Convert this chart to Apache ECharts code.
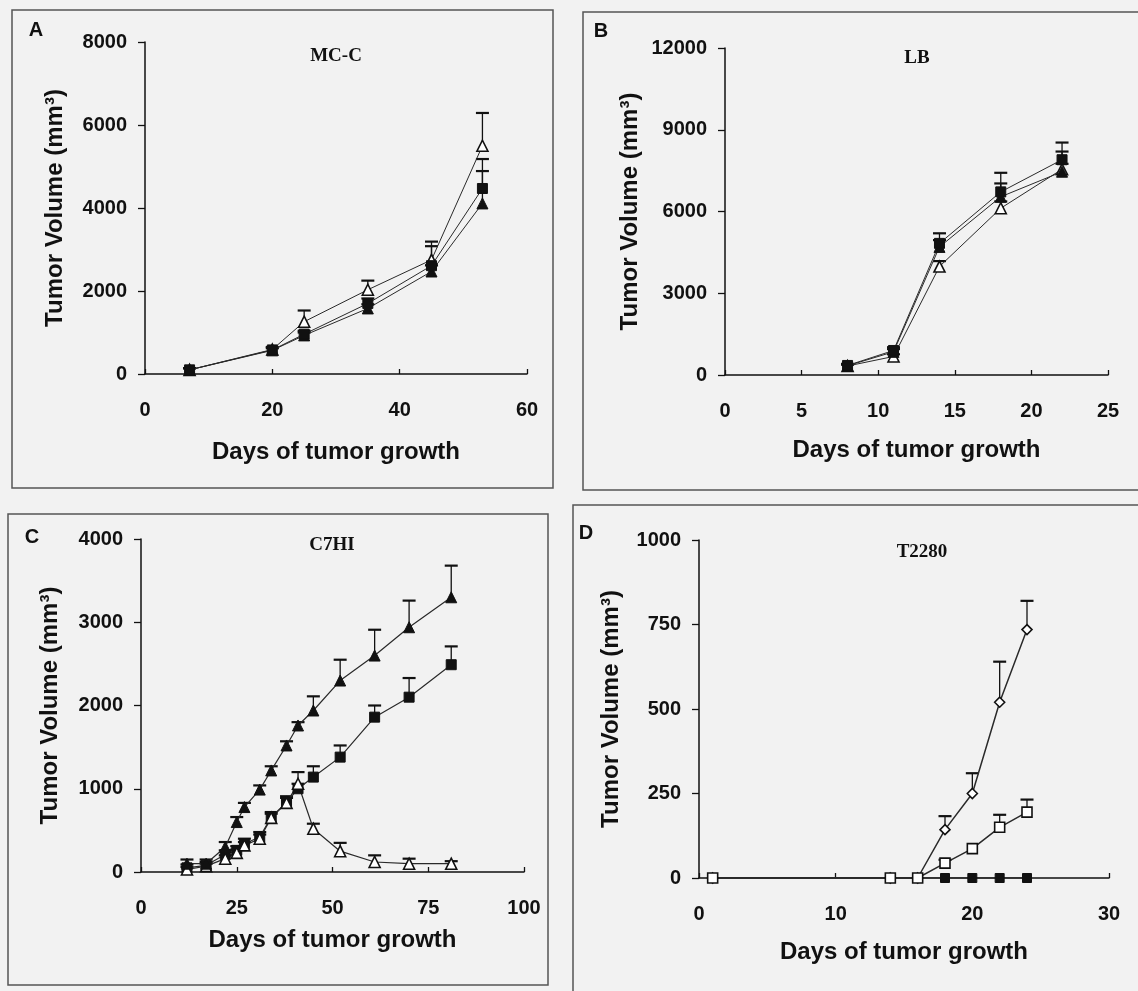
<!DOCTYPE html>
<html>
<head>
<meta charset="utf-8">
<script src="https://cdn.jsdelivr.net/npm/echarts@6/dist/echarts.min.js"></script>
<style>
html,body{margin:0;padding:0;background:#f2f2f2;}
#chart{width:1138px;height:991px;}
</style>
</head>
<body>
<div id="chart"></div>
<script>
// ---------- Panel A: MC-C ----------
const daysA = [7, 20, 25, 35, 45, 53];
const mccFilledSquare = [100, 580, 960, 1700, 2610, 4470];
const mccFilledSquareErr = [40, 60, 80, 120, 470, 710];
const mccFilledTriangle = [100, 570, 930, 1580, 2470, 4110];
const mccFilledTriangleErr = [40, 50, 70, 100, 150, 780];
const mccOpenTriangle = [100, 590, 1260, 2030, 2750, 5500];
const mccOpenTriangleErr = [40, 60, 270, 220, 440, 790];

// ---------- Panel B: LB ----------
const daysB = [8, 11, 14, 18, 22];
const lbFilledSquare = [350, 900, 4830, 6720, 7900];
const lbFilledSquareErr = [60, 120, 370, 700, 630];
const lbFilledTriangle = [340, 850, 4700, 6540, 7460];
const lbFilledTriangleErr = [50, 100, 250, 490, 740];
const lbOpenTriangle = [330, 680, 3980, 6120, 7550];
const lbOpenTriangleErr = [50, 80, 200, 250, 200];

// ---------- Panel C: C7HI ----------
const daysC = [12, 17, 22, 25, 27, 31, 34, 38, 41, 45, 52, 61, 70, 81];
const c7hiFilledTriangle = [100, 100, 300, 600, 780, 990, 1220, 1520, 1760, 1940, 2300, 2600, 2940, 3300];
const c7hiFilledTriangleErr = [50, 50, 60, 60, 50, 50, 50, 50, 40, 170, 250, 310, 320, 380];
const c7hiFilledSquare = [50, 80, 210, 260, 340, 420, 660, 840, 1000, 1140, 1380, 1860, 2100, 2490];
const c7hiFilledSquareErr = [40, 40, 50, 50, 60, 60, 60, 70, 60, 130, 140, 140, 230, 220];
const c7hiOpenTriangle = [30, 70, 160, 230, 320, 400, 650, 830, 1060, 520, 250, 120, 100, 100];
const c7hiOpenTriangleErr = [30, 30, 40, 40, 40, 50, 50, 60, 140, 60, 100, 80, 60, 30];

// ---------- Panel D: T2280 ----------
const daysD = [1, 14, 16, 18, 20, 22, 24];
const t2280OpenDiamond = [0, 0, 0, 143, 250, 520, 735];
const t2280OpenDiamondErr = [0, 0, 0, 40, 60, 120, 85];
const t2280OpenSquare = [0, 0, 0, 44, 87, 150, 195];
const t2280OpenSquareErr = [0, 0, 0, 10, 0, 37, 37];
const t2280FilledSquare = [0, 0, 0, 0, 0, 0, 0];

// ---------- Axis ticks ----------
const axisA = {xMax: 60, xInt: 20, yMax: 8000, yInt: 2000};
const axisB = {xMax: 25, xInt: 5, yMax: 12000, yInt: 3000};
const axisC = {xMax: 100, xInt: 25, yMax: 4000, yInt: 1000};
const axisD = {xMax: 30, xInt: 10, yMax: 1000, yInt: 250};

const titles = ['MC-C', 'LB', 'C7HI', 'T2280'];
const letters = ['A', 'B', 'C', 'D'];

const BG = '#f2f2f2';
const INK = '#111';
const SANS = '"Liberation Sans", Arial, sans-serif';
const SERIF = '"Liberation Serif", "Times New Roman", serif';

const grids = [
  {left: 145, top: 42, width: 382, height: 332},
  {left: 725, top: 48, width: 383, height: 327},
  {left: 141, top: 539, width: 383, height: 333},
  {left: 699, top: 540, width: 410, height: 338}
];
const axes = [axisA, axisB, axisC, axisD];
const yNameGap = [78, 83, 79, 76];
const xNameGap = [66, 63, 56, 62];

function xAxisDef(i) {
  const a = axes[i];
  return {
    type: 'value', gridIndex: i, min: 0, max: a.xMax, interval: a.xInt,
    name: 'Days of tumor growth', nameLocation: 'middle', nameGap: xNameGap[i],
    nameTextStyle: {fontFamily: SANS, fontWeight: 'bold', fontSize: 24, color: INK},
    axisLine: {show: true, onZero: false, lineStyle: {color: INK, width: 1.5}},
    axisTick: {show: true, inside: true, length: 5, lineStyle: {color: INK, width: 1.3}},
    axisLabel: {margin: 26, fontFamily: SANS, fontWeight: 'bold', fontSize: 20, color: INK,
      formatter: v => String(v)},
    splitLine: {show: false}
  };
}
function yAxisDef(i) {
  const a = axes[i];
  return {
    type: 'value', gridIndex: i, min: 0, max: a.yMax, interval: a.yInt,
    name: 'Tumor Volume (mm³)', nameLocation: 'middle', nameGap: yNameGap[i], nameRotate: 90,
    nameTextStyle: {fontFamily: SANS, fontWeight: 'bold', fontSize: 24, color: INK},
    axisLine: {show: true, onZero: false, lineStyle: {color: INK, width: 1.5}},
    axisTick: {show: true, inside: false, length: 7, lineStyle: {color: INK, width: 1.3}},
    axisLabel: {margin: 18, fontFamily: SANS, fontWeight: 'bold', fontSize: 20, color: INK,
      formatter: v => String(v)},
    splitLine: {show: false}
  };
}

function lineSeries(i, days, vals, symbol, filled, size, lw) {
  return {
    type: 'line', xAxisIndex: i, yAxisIndex: i,
    data: days.map((d, k) => [d, vals[k]]),
    symbol: symbol, symbolSize: size, showSymbol: true,
    lineStyle: {color: '#2a2a2a', width: lw},
    itemStyle: filled ? {color: INK, borderColor: INK, borderWidth: 1}
                      : {color: '#ffffff', borderColor: INK, borderWidth: 1.6},
    z: 5, animation: false, silent: true
  };
}
function errSeries(i, days, vals, errs) {
  return {
    type: 'custom', xAxisIndex: i, yAxisIndex: i,
    data: days.map((d, k) => [d, vals[k], vals[k] + errs[k]]),
    renderItem: function (params, api) {
      if (api.value(2) - api.value(1) <= 0) return null;
      const p0 = api.coord([api.value(0), api.value(1)]);
      const p1 = api.coord([api.value(0), api.value(2)]);
      const hw = 6.5;
      return {type: 'group', children: [
        {type: 'line', shape: {x1: p0[0], y1: p0[1], x2: p1[0], y2: p1[1]}, style: {stroke: INK, lineWidth: 1.3}},
        {type: 'line', shape: {x1: p1[0] - hw, y1: p1[1], x2: p1[0] + hw, y2: p1[1]}, style: {stroke: INK, lineWidth: 2.2}}
      ]};
    },
    z: 2, animation: false, silent: true
  };
}

const series = [
  // A
  errSeries(0, daysA, mccFilledSquare, mccFilledSquareErr),
  errSeries(0, daysA, mccFilledTriangle, mccFilledTriangleErr),
  errSeries(0, daysA, mccOpenTriangle, mccOpenTriangleErr),
  lineSeries(0, daysA, mccOpenTriangle, 'triangle', false, 11, 1),
  lineSeries(0, daysA, mccFilledTriangle, 'triangle', true, 11, 1),
  lineSeries(0, daysA, mccFilledSquare, 'rect', true, 10, 1),
  // B
  errSeries(1, daysB, lbFilledSquare, lbFilledSquareErr),
  errSeries(1, daysB, lbFilledTriangle, lbFilledTriangleErr),
  errSeries(1, daysB, lbOpenTriangle, lbOpenTriangleErr),
  lineSeries(1, daysB, lbOpenTriangle, 'triangle', false, 11, 1),
  lineSeries(1, daysB, lbFilledTriangle, 'triangle', true, 11, 1),
  lineSeries(1, daysB, lbFilledSquare, 'rect', true, 10, 1),
  // C
  errSeries(2, daysC, c7hiFilledTriangle, c7hiFilledTriangleErr),
  errSeries(2, daysC, c7hiFilledSquare, c7hiFilledSquareErr),
  errSeries(2, daysC, c7hiOpenTriangle, c7hiOpenTriangleErr),
  lineSeries(2, daysC, c7hiFilledSquare, 'rect', true, 10, 1.2),
  lineSeries(2, daysC, c7hiOpenTriangle, 'triangle', false, 11, 1.2),
  lineSeries(2, daysC, c7hiFilledTriangle, 'triangle', true, 11, 1.2),
  // D
  errSeries(3, daysD, t2280OpenDiamond, t2280OpenDiamondErr),
  errSeries(3, daysD, t2280OpenSquare, t2280OpenSquareErr),
  lineSeries(3, daysD, t2280FilledSquare, 'rect', true, 9, 1.5),
  lineSeries(3, daysD, t2280OpenDiamond, 'diamond', false, 10, 1.5),
  lineSeries(3, daysD, t2280OpenSquare, 'rect', false, 10, 1.5)
];

const titleCenters = [[336, 56], [917, 58], [332, 545], [922, 552]];
const letterPos = [[36, 30], [601, 31], [32, 537], [586, 533]];
const boxes = [
  {x: 12, y: 10, width: 541, height: 478},
  {x: 583, y: 12, width: 560, height: 478},
  {x: 8, y: 514, width: 540, height: 471},
  {x: 573, y: 505, width: 570, height: 495}
];

const graphic = [];
boxes.forEach(b => graphic.push({type: 'rect', shape: b, style: {fill: 'none', stroke: '#555', lineWidth: 1.5}, silent: true, z: 0}));
letters.forEach((t, i) => graphic.push({type: 'text', x: letterPos[i][0], y: letterPos[i][1],
  style: {text: t, fill: INK, font: 'bold 20px ' + SANS, textAlign: 'center', textVerticalAlign: 'middle'}, silent: true}));
titles.forEach((t, i) => graphic.push({type: 'text', x: titleCenters[i][0], y: titleCenters[i][1],
  style: {text: t, fill: INK, font: 'bold 19px ' + SERIF, textAlign: 'center', textVerticalAlign: 'middle'}, silent: true}));

const chart = echarts.init(document.getElementById('chart'), null, {renderer: 'canvas'});
chart.setOption({
  backgroundColor: BG,
  animation: false,
  grid: grids.map(g => Object.assign({containLabel: false, outerBoundsMode: 'none'}, g)),
  xAxis: [0, 1, 2, 3].map(xAxisDef),
  yAxis: [0, 1, 2, 3].map(yAxisDef),
  series: series,
  graphic: graphic
});
</script>
</body>
</html>
